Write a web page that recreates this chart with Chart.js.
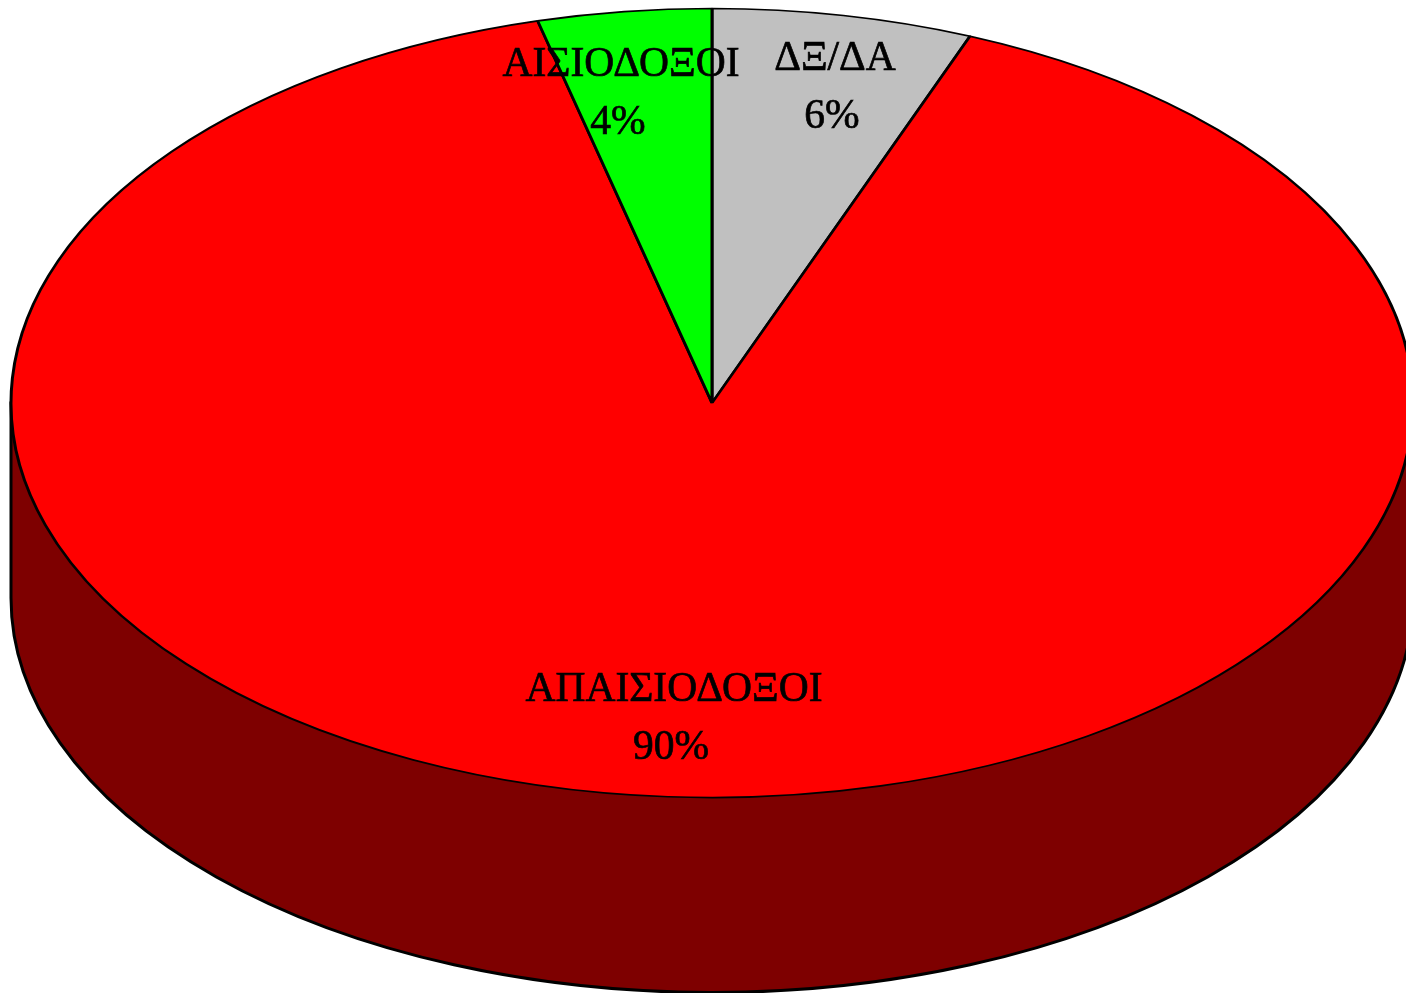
<!DOCTYPE html>
<html>
<head>
<meta charset="utf-8">
<title>Pie</title>
<script src="https://cdn.jsdelivr.net/npm/chart.js@4/dist/chart.umd.min.js"></script>
<style>
  html, body { margin: 0; padding: 0; background: #fff; overflow: hidden; }
  canvas { display: block; }
</style>
</head>
<body>
<canvas id="chart" width="1406" height="993"></canvas>
<script>
const categories = ['ΔΞ/ΔΑ', 'ΑΠΑΙΣΙΟΔΟΞΟΙ', 'ΑΙΣΙΟΔΟΞΟΙ'];
const values = [6, 90, 4];
const sliceColors = ['#C0C0C0', '#FF0000', '#00FF00'];

// label placement relative to the pie centre, in page pixels
const labelOffsets = [[123, -344], [-38, 287], [-91, -338]];
const lineGap = 58;

const radius = 701;
const squash = 0.5628;   // flattens the circle into the tilted ellipse
const depth = 195;
const sideColor = '#7E0000';

const tiltPlugin = {
  id: 'tilt',
  beforeDatasetsDraw(chart) {
    const ctx = chart.ctx;
    const arc = chart.getDatasetMeta(0).data[0];
    const cx = arc.x, cy = arc.y;
    const ry = radius * squash;

    // side wall below the top face
    ctx.save();
    ctx.beginPath();
    ctx.moveTo(cx - radius, cy);
    ctx.lineTo(cx - radius, cy + depth);
    ctx.ellipse(cx, cy + depth, radius, ry, 0, Math.PI, 0, true);
    ctx.lineTo(cx + radius, cy);
    ctx.closePath();
    ctx.fillStyle = sideColor;
    ctx.fill();
    ctx.lineWidth = 3;
    ctx.strokeStyle = '#000';
    ctx.stroke();
    ctx.restore();

    // the library's arcs get drawn flattened
    ctx.save();
    ctx.translate(0, cy);
    ctx.scale(1, squash);
    ctx.translate(0, -cy);
  },
  afterDatasetsDraw(chart) {
    const ctx = chart.ctx;
    ctx.restore();

    const arc = chart.getDatasetMeta(0).data[0];
    ctx.save();
    ctx.font = '41.5px "Liberation Serif"';
    ctx.fillStyle = '#000';
    ctx.strokeStyle = '#000';
    ctx.lineWidth = 0.7;
    ctx.textAlign = 'center';
    ctx.textBaseline = 'middle';
    categories.forEach((name, i) => {
      const x = arc.x + labelOffsets[i][0];
      const y = arc.y + labelOffsets[i][1];
      const pct = values[i] + '%';
      ctx.fillText(name, x, y);
      ctx.strokeText(name, x, y);
      ctx.fillText(pct, x - 3, y + lineGap);
      ctx.strokeText(pct, x - 3, y + lineGap);
    });
    ctx.restore();
  }
};

new Chart(document.getElementById('chart').getContext('2d'), {
  type: 'pie',
  data: {
    labels: categories,
    datasets: [{
      data: values,
      backgroundColor: sliceColors,
      borderColor: '#000',
      borderWidth: 3,
      radius: radius,
      clip: false
    }]
  },
  options: {
    responsive: false,
    animation: false,
    devicePixelRatio: 1,
    layout: { padding: { left: 18, bottom: 187 } },
    plugins: {
      legend: { display: false },
      tooltip: { enabled: false }
    }
  },
  plugins: [tiltPlugin]
});
</script>
</body>
</html>
